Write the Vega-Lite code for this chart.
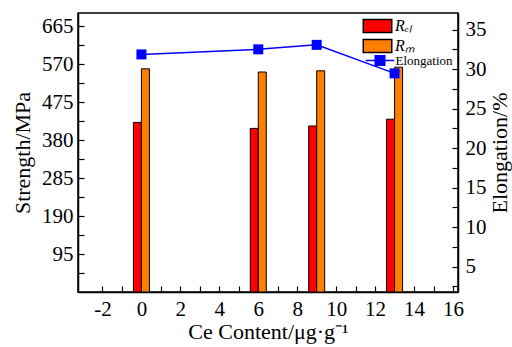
{
  "$schema": "https://vega.github.io/schema/vega-lite/v6.json",
  "width": 380,
  "height": 279,
  "autosize": {"type": "none"},
  "padding": {"left": 78, "top": 13, "right": 54, "bottom": 55},
  "background": "white",
  "config": {
    "view": {"stroke": "black", "strokeWidth": 1.5},
    "font": "Liberation Serif",
    "axis": {
      "domainColor": "black", "domainWidth": 1.5,
      "tickColor": "black", "tickWidth": 1.2,
      "tickCount": 60,
      "labelFont": "Liberation Serif", "labelFontSize": 21, "labelColor": "black",
      "labelOverlap": false,
      "titleFont": "Liberation Serif", "titleFontSize": 22, "titleFontWeight": "normal", "titleColor": "black",
      "grid": false
    }
  },
  "data": {"values": [
    {"ce": 0, "series": "ReL", "value": 424},
    {"ce": 6, "series": "ReL", "value": 409},
    {"ce": 9, "series": "ReL", "value": 415},
    {"ce": 13, "series": "ReL", "value": 432},
    {"ce": 0, "series": "Rm", "value": 558},
    {"ce": 6, "series": "Rm", "value": 550},
    {"ce": 9, "series": "Rm", "value": 553},
    {"ce": 13, "series": "Rm", "value": 562},
    {"ce": 0, "series": "Elongation", "value": 31.86},
    {"ce": 6, "series": "Elongation", "value": 32.5},
    {"ce": 9, "series": "Elongation", "value": 33.07},
    {"ce": 13, "series": "Elongation", "value": 29.46}
  ]},
  "encoding": {
    "x": {
      "field": "ce", "type": "quantitative",
      "scale": {"domain": [-3, 16], "nice": false, "zero": false},
      "axis": {
        "title": "Ce Content/μg·g⁻¹",
        "tickCount": 60,
        "values": [-2, -1, 0, 1, 2, 3, 4, 5, 6, 7, 8, 9, 10, 11, 12, 13, 14, 15, 16],
        "labelExpr": "datum.value % 2 == 0 ? datum.value : ''",
        "tickSize": -6,
        "labelPadding": 12,
        "labelFlush": false,
        "titlePadding": 2,
        "encode": {"ticks": {"update": {"y2": {"signal": "datum.value % 2 == 0 ? -6 : -3"}}}}
      }
    }
  },
  "layer": [
    {
      "layer": [
        {
          "transform": [{"filter": "datum.series == 'ReL'"}],
          "mark": {"type": "bar", "width": 8, "xOffset": -4, "stroke": "black", "strokeWidth": 1},
          "encoding": {
            "y": {
              "field": "value", "type": "quantitative",
              "scale": {"domain": [0, 697.5], "nice": false, "zero": true},
              "axis": {
                "orient": "left",
                "title": "Strength/MPa",
                "tickCount": 60,
                "values": [47.5, 95, 142.5, 190, 237.5, 285, 332.5, 380, 427.5, 475, 522.5, 570, 617.5, 665],
                "labelExpr": "datum.value % 95 == 0 ? datum.value : ''",
                "tickSize": -6,
                "labelPadding": 11,
                "titlePadding": 7,
                "encode": {"ticks": {"update": {"x2": {"signal": "datum.value % 95 == 0 ? 6 : 3"}}}}
              }
            },
            "color": {
              "datum": "Rₑₗ",
              "scale": {"domain": ["Rₑₗ", "Rₘ"], "range": ["#ff0000", "#ff8000"]},
              "legend": {
                "orient": "none", "legendX": 289, "legendY": 2.5,
                "title": null,
                "symbolType": "M-1.5,-0.68H1.5V0.68H-1.5Z",
                "symbolSize": 361,
                "labelFont": "Liberation Serif", "labelFontSize": 16, "labelFontStyle": "italic", "labelColor": "black",
                "rowPadding": 0, "labelOffset": 7,
                "encode": {"symbols": {"update": {"stroke": {"value": "black"}, "strokeWidth": {"value": 1}}}}
              }
            }
          }
        },
        {
          "transform": [{"filter": "datum.series == 'Rm'"}],
          "mark": {"type": "bar", "width": 8, "xOffset": 4, "stroke": "black", "strokeWidth": 1},
          "encoding": {
            "y": {"field": "value", "type": "quantitative"},
            "color": {"datum": "Rₘ"}
          }
        }
      ]
    },
    {
      "transform": [{"filter": "datum.series == 'Elongation'"}],
      "layer": [
        {
          "mark": {"type": "line", "strokeWidth": 1.5},
          "encoding": {
            "y": {
              "field": "value", "type": "quantitative",
              "scale": {"domain": [1.8, 37.1], "nice": false, "zero": false},
              "axis": {
                "orient": "right",
                "title": "Elongation/%",
                "titleAngle": -90,
                "titleBaseline": "top",
                "tickCount": 60,
                "values": [2.5, 5, 7.5, 10, 12.5, 15, 17.5, 20, 22.5, 25, 27.5, 30, 32.5, 35],
                "labelExpr": "datum.value % 5 == 0 ? datum.value : ''",
                "tickSize": -6,
                "labelPadding": 13,
                "titlePadding": 3,
                "encode": {"ticks": {"update": {"x2": {"signal": "datum.value % 5 == 0 ? -6 : -3"}}}}
              }
            },
            "stroke": {
              "datum": "Elongation",
              "scale": {"domain": ["Elongation"], "range": ["#0000ff"]},
              "legend": {
                "orient": "none", "legendX": 291.5, "legendY": 37,
                "title": null,
                "symbolType": "M-1.5,0H1.5M-0.5,-0.5H0.5V0.5H-0.5Z",
                "symbolSize": 361,
                "labelFont": "Liberation Serif", "labelFontSize": 13, "labelColor": "black",
                "labelOffset": 5,
                "encode": {"symbols": {"update": {"stroke": {"value": "#0000ff"}, "fill": {"value": "#0000ff"}, "strokeWidth": {"value": 1.5}}}}
              }
            }
          }
        },
        {
          "mark": {"type": "point", "shape": "square", "filled": true, "size": 100, "color": "#0000ff", "opacity": 1},
          "encoding": {
            "y": {"field": "value", "type": "quantitative"}
          }
        }
      ]
    }
  ],
  "resolve": {"scale": {"y": "independent"}}
}
